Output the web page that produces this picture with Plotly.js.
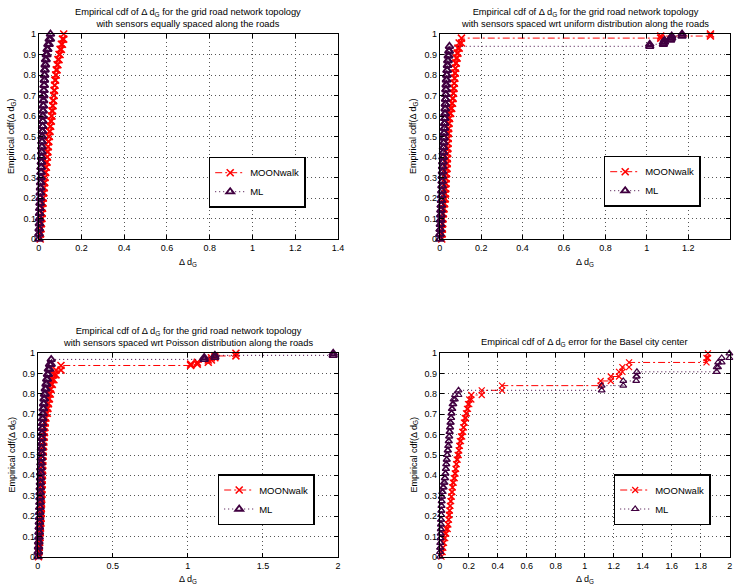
<!DOCTYPE html>
<html><head><meta charset="utf-8">
<script src="https://cdn.plot.ly/plotly-3.0.1.min.js"></script>
<style>html,body{margin:0;padding:0;background:#fff}#chart{width:734px;height:587px}</style>
</head><body><div id="chart"></div>
<script>
// ---- Data (sorted samples of Δd_G and the empirical cdf level reached after each sample) ----
// Plot 1: sensors equally spaced
const p1_mw_x = [0.007,0.009,0.011,0.013,0.015,0.016,0.018,0.02,0.022,0.024,0.026,0.028,0.03,0.033,0.036,0.039,0.041,0.043,0.045,0.047,0.05,0.053,0.056,0.059,0.062,0.065,0.067,0.07,0.072,0.074,0.076,0.079,0.082,0.086,0.09,0.095,0.1,0.106,0.111,0.117];
const p1_mw_F = [0.025,0.05,0.075,0.1,0.125,0.15,0.175,0.2,0.225,0.25,0.275,0.3,0.325,0.35,0.375,0.4,0.425,0.45,0.475,0.5,0.525,0.55,0.575,0.6,0.625,0.65,0.675,0.7,0.725,0.75,0.775,0.8,0.825,0.85,0.875,0.9,0.925,0.95,0.975,1.0];
const p1_ml_x = [0.001,0.002,0.003,0.004,0.004,0.005,0.006,0.007,0.007,0.008,0.009,0.01,0.011,0.011,0.012,0.013,0.014,0.015,0.015,0.016,0.017,0.018,0.019,0.019,0.02,0.021,0.022,0.023,0.024,0.025,0.026,0.027,0.028,0.03,0.032,0.035,0.039,0.043,0.049,0.055];
const p1_ml_F = [0.025,0.05,0.075,0.1,0.125,0.15,0.175,0.2,0.225,0.25,0.275,0.3,0.325,0.35,0.375,0.4,0.425,0.45,0.475,0.5,0.525,0.55,0.575,0.6,0.625,0.65,0.675,0.7,0.725,0.75,0.775,0.8,0.825,0.85,0.875,0.9,0.925,0.95,0.975,1.0];

// Plot 2: sensors spaced wrt uniform distribution
const p2_mw_x = [0.01,0.012,0.013,0.014,0.016,0.018,0.021,0.024,0.027,0.028,0.029,0.03,0.031,0.033,0.035,0.036,0.037,0.038,0.039,0.04,0.041,0.042,0.043,0.045,0.048,0.053,0.058,0.062,0.065,0.067,0.069,0.071,0.073,0.075,0.077,0.08,0.084,0.088,0.094,0.105,1.067,1.307];
const p2_mw_F = [0.025,0.049,0.074,0.098,0.123,0.147,0.172,0.196,0.221,0.245,0.27,0.294,0.319,0.343,0.368,0.392,0.417,0.441,0.466,0.49,0.515,0.539,0.564,0.588,0.613,0.637,0.662,0.686,0.711,0.735,0.76,0.784,0.809,0.833,0.858,0.882,0.907,0.931,0.956,0.98,0.99,1.0];
const p2_ml_x = [0.001,0.002,0.003,0.004,0.005,0.006,0.007,0.008,0.009,0.01,0.011,0.012,0.012,0.013,0.014,0.015,0.016,0.017,0.018,0.019,0.02,0.021,0.022,0.023,0.024,0.025,0.026,0.027,0.028,0.029,0.03,0.031,0.032,0.034,0.035,0.037,0.039,0.041,0.044,0.047,1.014,1.08,1.085,1.115,1.12,1.17];
const p2_ml_F = [0.024,0.047,0.071,0.094,0.118,0.141,0.165,0.188,0.212,0.235,0.259,0.282,0.306,0.329,0.353,0.376,0.4,0.423,0.447,0.47,0.494,0.517,0.541,0.564,0.588,0.611,0.635,0.658,0.682,0.705,0.729,0.752,0.776,0.8,0.823,0.847,0.87,0.894,0.917,0.94,0.95,0.96,0.97,0.98,0.99,1.0];

// Plot 3: sensors spaced wrt Poisson distribution
const p3_mw_x = [0.005,0.008,0.011,0.013,0.015,0.017,0.019,0.021,0.022,0.023,0.024,0.025,0.026,0.027,0.028,0.029,0.03,0.031,0.032,0.033,0.034,0.035,0.037,0.039,0.041,0.043,0.045,0.048,0.05,0.055,0.064,0.068,0.072,0.078,0.084,0.089,0.097,0.108,0.122,0.155,1.019,1.063,1.136,1.157,1.18,1.32];
const p3_mw_F = [0.024,0.047,0.071,0.094,0.118,0.141,0.165,0.188,0.212,0.235,0.259,0.282,0.306,0.329,0.353,0.376,0.4,0.423,0.447,0.47,0.494,0.517,0.541,0.564,0.588,0.611,0.635,0.658,0.682,0.705,0.729,0.752,0.776,0.8,0.823,0.847,0.87,0.894,0.917,0.94,0.947,0.956,0.967,0.978,0.987,1.0];
const p3_ml_x = [0.003,0.005,0.006,0.008,0.009,0.01,0.011,0.012,0.013,0.014,0.015,0.016,0.016,0.017,0.018,0.019,0.02,0.021,0.022,0.023,0.024,0.025,0.026,0.027,0.028,0.029,0.031,0.032,0.034,0.036,0.039,0.042,0.045,0.05,0.055,0.06,0.065,0.071,0.079,0.09,1.109,1.18,1.968];
const p3_ml_F = [0.024,0.049,0.073,0.097,0.121,0.146,0.17,0.194,0.218,0.243,0.267,0.291,0.315,0.34,0.364,0.388,0.412,0.437,0.461,0.485,0.509,0.534,0.558,0.582,0.606,0.631,0.655,0.679,0.703,0.728,0.752,0.776,0.8,0.825,0.849,0.873,0.897,0.922,0.946,0.97,0.98,0.99,1.0];

// Plot 4: Basel city center
const p4_mw_x = [0.012,0.02,0.025,0.03,0.038,0.045,0.055,0.06,0.064,0.067,0.07,0.074,0.079,0.083,0.087,0.09,0.097,0.104,0.109,0.113,0.117,0.124,0.131,0.135,0.139,0.147,0.155,0.162,0.167,0.173,0.181,0.188,0.195,0.204,0.218,0.29,0.43,1.11,1.18,1.237,1.26,1.306,1.84,1.85];
const p4_mw_F = [0.023,0.045,0.068,0.091,0.114,0.136,0.159,0.182,0.205,0.227,0.25,0.273,0.295,0.318,0.341,0.364,0.386,0.409,0.432,0.455,0.477,0.5,0.523,0.545,0.568,0.591,0.614,0.636,0.659,0.682,0.705,0.727,0.75,0.773,0.795,0.818,0.841,0.864,0.886,0.909,0.932,0.955,0.977,1.0];
const p4_ml_x = [0.002,0.003,0.004,0.005,0.006,0.007,0.008,0.009,0.01,0.011,0.012,0.013,0.014,0.016,0.022,0.028,0.034,0.038,0.041,0.044,0.047,0.05,0.054,0.058,0.061,0.064,0.067,0.07,0.073,0.077,0.08,0.083,0.088,0.095,0.105,0.13,1.117,1.266,1.355,1.36,1.91,1.92,1.945,1.998];
const p4_ml_F = [0.023,0.045,0.068,0.091,0.114,0.136,0.159,0.182,0.205,0.227,0.25,0.273,0.295,0.318,0.341,0.364,0.386,0.409,0.432,0.455,0.477,0.5,0.523,0.545,0.568,0.591,0.614,0.636,0.659,0.682,0.705,0.727,0.75,0.773,0.795,0.818,0.841,0.864,0.886,0.909,0.932,0.955,0.977,1.0];

const seriesNames = ['MOONwalk', 'ML'];
const titles = [
  'Empirical cdf of Δ d<sub>G</sub> for the grid road network topology<br>with sensors equally spaced along the roads',
  'Empirical cdf of Δ d<sub>G</sub> for the grid road network topology<br>with sensors spaced wrt uniform distribution along the roads',
  'Empirical cdf of Δ d<sub>G</sub> for the grid road network topology<br>with sensors spaced wrt Poisson distribution along the roads',
  'Empirical cdf of Δ d<sub>G</sub> error for the Basel city center'
];
const xLabel = 'Δ d<sub>G</sub>';
const yLabel = 'Empirical cdf(Δ d<sub>G</sub>)';
const xRanges = [[0,1.4],[0,1.4],[0,2],[0,2]];
const xDticks = [0.2,0.2,0.5,0.2];

// ---- Build stairs (ecdf plotted as stairs with markers at each corner) ----
function stairs(xs, Fs){
  const X=[], Y=[]; let prev=0;
  for(let i=0;i<xs.length;i++){ X.push(xs[i], xs[i]); Y.push(prev, Fs[i]); prev=Fs[i]; }
  return {X, Y};
}

const RED='#ff0000', PURP='#400040';
const W=734, H=587;
const px = x => x/W, py = y => 1 - y/H;

// axes boxes in pixels [left, right, top, bottom]
const boxes = [
  [38.7, 338, 34, 239],
  [439.7, 729.7, 34, 239],
  [37.7, 338, 353.3, 556.7],
  [439.7, 729.7, 353.3, 556.7]
];
const data = [
  [p1_mw_x,p1_mw_F,p1_ml_x,p1_ml_F],
  [p2_mw_x,p2_mw_F,p2_ml_x,p2_ml_F],
  [p3_mw_x,p3_mw_F,p3_ml_x,p3_ml_F],
  [p4_mw_x,p4_mw_F,p4_ml_x,p4_ml_F]
];
const legendBoxes = [[208.7,156.7],[603.7,155.7],[217.7,474],[613.7,474]];

const traces=[]; const layout={
  width:W, height:H, margin:{l:0,r:0,t:0,b:0}, paper_bgcolor:'#fff', plot_bgcolor:'#fff',
  font:{family:'Liberation Sans, Arial, sans-serif', size:9, color:'#000'},
  annotations:[], showlegend:true
};
const fnt = {family:'Liberation Sans, Arial, sans-serif', size:9, color:'#000'};

for(let k=0;k<4;k++){
  const [l,r,t,b]=boxes[k];
  const xa = k===0?'x':'x'+(k+1), ya = k===0?'y':'y'+(k+1);
  const xk = k===0?'xaxis':'xaxis'+(k+1), yk = k===0?'yaxis':'yaxis'+(k+1);
  const lg = k===0?'legend':'legend'+(k+1);
  const common = {showline:true, linecolor:'#000', linewidth:1, mirror:'ticks', ticks:'inside', ticklen:4, tickcolor:'#000',
    showgrid:true, gridcolor:'#555', gridwidth:1, griddash:'1px,3px', zeroline:false, tickfont:fnt, fixedrange:true};
  layout[xk] = Object.assign({}, common, {domain:[px(l),px(r)], anchor:ya, range:xRanges[k], dtick:xDticks[k], tick0:0});
  layout[yk] = Object.assign({}, common, {domain:[py(b),py(t)], anchor:xa, range:[0,1], dtick:0.1, tick0:0});
  const d=data[k];
  const s1=stairs(d[0],d[1]), s2=stairs(d[2],d[3]);
  const dense = k<3;
  traces.push({type:'scatter', mode:'lines+markers', x:s1.X, y:s1.Y, xaxis:xa, yaxis:ya, name:seriesNames[0], legend:lg, cliponaxis:false,
    line:{color:RED, width:1, dash:'7px,3px,2px,3px'},
    marker:{symbol:'x-thin-open', size:dense?7:6, color:RED, line:{color:RED, width:dense?1.6:1.2}}});
  traces.push({type:'scatter', mode:'lines+markers', x:s2.X, y:s2.Y, xaxis:xa, yaxis:ya, name:seriesNames[1], legend:lg, cliponaxis:false,
    line:{color:PURP, width:1, dash:'1px,3px'},
    marker:{symbol:'triangle-up-open', size:dense?7:6, color:PURP, line:{color:PURP, width:dense?1.8:1.2}}});
  layout[lg] = {x:px(legendBoxes[k][0]), y:py(legendBoxes[k][1]), xanchor:'left', yanchor:'top', xref:'paper', yref:'paper',
    bgcolor:'#fff', bordercolor:'#000', borderwidth:1.5, font:{family:'Liberation Sans, Arial, sans-serif', size:9.5, color:'#000'},
    itemwidth:30, tracegroupgap:0};
  const cx=(l+r)/2;
  layout.annotations.push({text:titles[k], xref:'paper', yref:'paper', x:px(cx), y:py(t-3), xanchor:'center', yanchor:'bottom', showarrow:false, font:{family:fnt.family, size:9.3, color:'#000'}, align:'center'});
  layout.annotations.push({text:xLabel, xref:'paper', yref:'paper', x:px(cx), y:py(b+23), xanchor:'center', yanchor:'middle', showarrow:false, font:fnt});
  const ylx = k%2===0 ? 11.5 : 413.5;
  layout.annotations.push({text:yLabel, xref:'paper', yref:'paper', x:px(ylx), y:py((t+b)/2), xanchor:'center', yanchor:'middle', textangle:-90, showarrow:false, font:fnt});
}
Plotly.newPlot('chart', traces, layout, {staticPlot:true, displayModeBar:false});
</script></body></html>
